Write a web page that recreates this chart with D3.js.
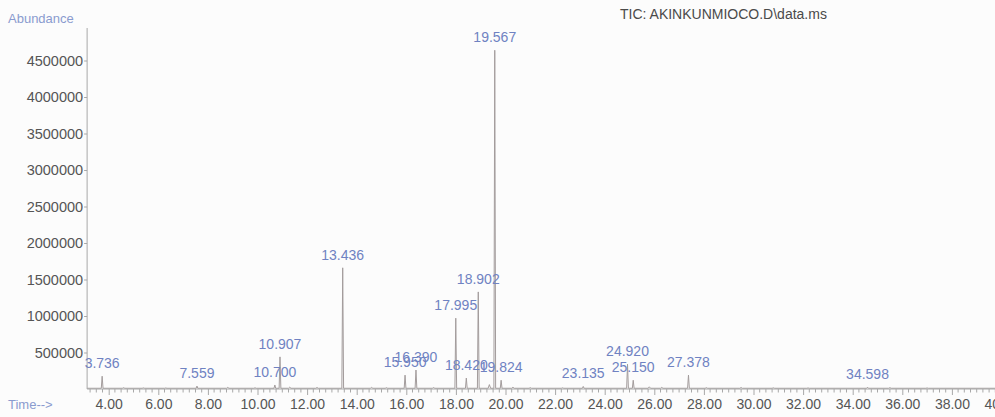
<!DOCTYPE html>
<html>
<head>
<meta charset="utf-8">
<script src="https://cdn.jsdelivr.net/npm/d3@7"></script>
<style>
  html, body { margin: 0; padding: 0; background: #fcfcfc; }
  svg { display: block; font-family: "Liberation Sans", Arial, sans-serif; }
</style>
</head>
<body>
<svg id="chart" width="995" height="417"></svg>
<script>
// ---- data ----
const title = "TIC: AKINKUNMIOCO.D\\data.ms";
const peakTimes  = [3.736, 7.559, 10.700, 10.907, 13.436, 15.950, 16.390, 17.995, 18.420, 18.902, 19.567, 19.824, 23.135, 24.920, 25.150, 27.378, 34.598];
const peakLabels = ["3.736", "7.559", "10.700", "10.907", "13.436", "15.950", "16.390", "17.995", "18.420", "18.902", "19.567", "19.824", "23.135", "24.920", "25.150", "27.378", "34.598"];
const peakHeights = [175000, 40000, 55000, 440000, 1660000, 190000, 260000, 970000, 150000, 1330000, 4640000, 120000, 35000, 340000, 120000, 190000, 25000];
// small unlabelled baseline bumps
const minorTimes   = [4.6, 5.4, 6.3, 8.8, 9.9, 11.3, 12.4, 14.6, 15.2, 17.1, 19.35, 20.3, 21.0, 22.3, 25.8, 26.3, 28.1, 29.5, 30.8, 32.2, 35.5, 37.0];
const minorHeights = [18000, 15000, 14000, 22000, 16000, 25000, 20000, 22000, 18000, 20000, 60000, 24000, 18000, 16000, 30000, 22000, 18000, 20000, 16000, 14000, 18000, 14000];
const baselineLevel = 10000;
const yTicks = [500000, 1000000, 1500000, 2000000, 2500000, 3000000, 3500000, 4000000, 4500000];
const xTicks = [4, 6, 8, 10, 12, 14, 16, 18, 20, 22, 24, 26, 28, 30, 32, 34, 36, 38, 40];
const timeStart = 3.13, timeEnd = 40.4;

// ---- scales ----
const svg = d3.select("#chart");
const x = d3.scaleLinear().domain([4, 40]).range([108.7, 1001.5]);
const y = d3.scaleLinear().domain([0, 5000000]).range([389, 24]);

const axisColor = "#a8a8a8";
const tickTextColor = "#555";
const labelBlue = "#6f82c2";
const lightBlue = "#8a9bcf";

// ---- trace ----
const bumps = [];
peakTimes.forEach((t, i) => bumps.push({t, h: peakHeights[i], w: 0.035}));
minorTimes.forEach((t, i) => bumps.push({t, h: minorHeights[i], w: 0.05}));
bumps.sort((a, b) => a.t - b.t);
const pts = [[timeStart, baselineLevel]];
bumps.forEach(b => {
  pts.push([b.t - b.w, baselineLevel]);
  pts.push([b.t, b.h]);
  pts.push([b.t + b.w, baselineLevel]);
});
pts.push([timeEnd, baselineLevel]);
const line = d3.line().x(d => x(d[0])).y(d => y(d[1]));
svg.append("path").attr("d", line(pts))
  .attr("fill", "none").attr("stroke", "#a39c9c").attr("stroke-width", 1);

// ---- axes ----
const xAxis = d3.axisBottom(x).tickValues(xTicks).tickFormat(d3.format(".2f")).tickSize(6).tickSizeOuter(0);
const gx = svg.append("g").attr("transform", `translate(0,${y(0)})`).call(xAxis);
gx.select(".domain").attr("d", `M${x(timeStart)},0H995`).attr("stroke", axisColor);
gx.selectAll(".tick line").attr("stroke", axisColor);
gx.selectAll(".tick text").attr("fill", tickTextColor).attr("font-size", 14).attr("dy", "0.95em").attr("y", 7);
// minor x ticks
const minorX = d3.range(3.25, 40.4, 0.25).filter(v => Math.abs(v / 2 - Math.round(v / 2)) > 1e-6);
svg.append("g").selectAll("line").data(minorX).join("line")
  .attr("x1", d => x(d)).attr("x2", d => x(d))
  .attr("y1", y(0)).attr("y2", y(0) + 3.5)
  .attr("stroke", axisColor);

const yAxis = d3.axisLeft(y).tickValues(yTicks).tickFormat(d3.format("d")).tickSize(3).tickSizeOuter(0);
const gy = svg.append("g").attr("transform", `translate(${x(timeStart)},0)`).call(yAxis);
gy.select(".domain").attr("d", `M0,${y(0)}V28`).attr("stroke", axisColor);
gy.selectAll(".tick line").attr("stroke", axisColor);
gy.selectAll(".tick text").attr("fill", tickTextColor).attr("font-size", 14.5).attr("x", -4);

// ---- peak labels ----
svg.append("g").selectAll("text").data(peakTimes).join("text")
  .attr("x", d => x(d))
  .attr("y", (d, i) => y(peakHeights[i]) - 8)
  .attr("text-anchor", "middle")
  .attr("fill", labelBlue)
  .attr("font-size", 14)
  .text((d, i) => peakLabels[i]);

// ---- titles ----
svg.append("text").attr("x", 8).attr("y", 23).attr("fill", lightBlue).attr("font-size", 13).text("Abundance");
svg.append("text").attr("x", 8).attr("y", 409).attr("fill", lightBlue).attr("font-size", 13).text("Time-->");
svg.append("text").attr("x", 620).attr("y", 19).attr("fill", "#4a4a4a").attr("font-size", 14).text(title);
</script>
</body>
</html>
